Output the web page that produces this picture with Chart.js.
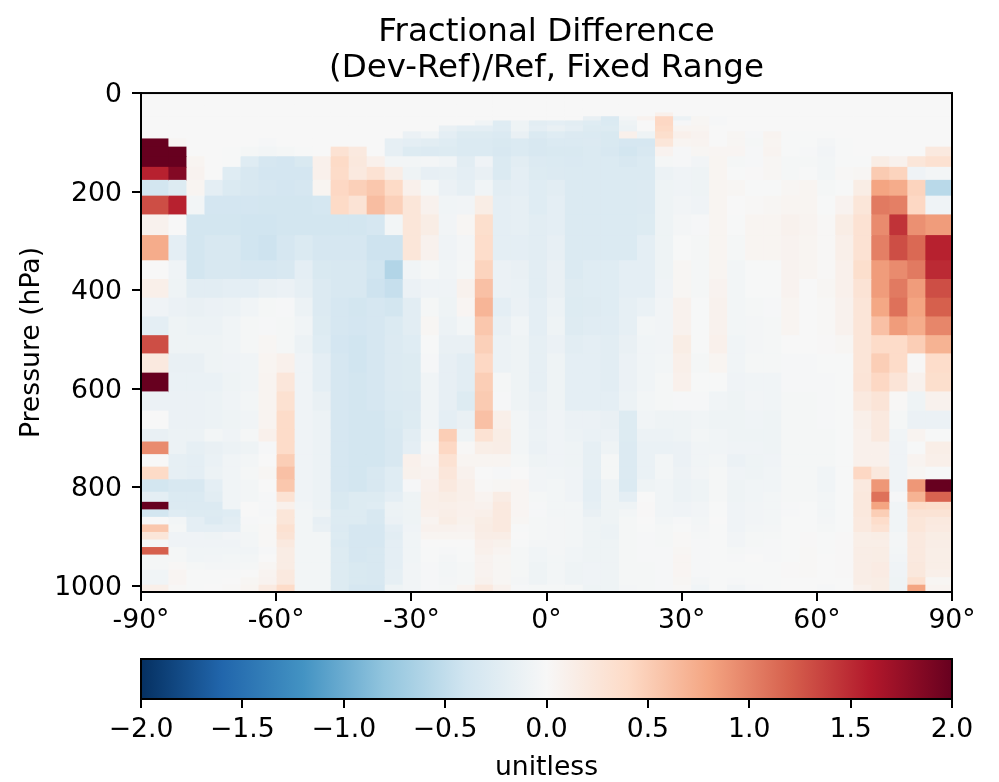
<!DOCTYPE html>
<html>
<head>
<meta charset="utf-8">
<title>Fractional Difference</title>
<script src="https://cdn.jsdelivr.net/npm/chart.js@4"></script>
<style>
  html, body { margin: 0; padding: 0; background: #fff; }
  canvas { display: block; }
</style>
</head>
<body>
<canvas id="heatChart" width="999" height="640"></canvas>
<canvas id="barChart" width="999" height="142"></canvas>
<script>
// latitude cell edges (degrees) - polar cells are wider
const latEdges = [-90,-84,-80,-76,-72,-68,-64,-60,-56,-52,-48,-44,-40,-36,-32,-28,-24,-20,-16,-12,-8,-4,0,4,8,12,16,20,24,28,32,36,40,44,48,52,56,60,64,68,72,76,80,84,90];
// pressure cell edges (hPa), top of the plot first
const pressureEdges = [0,14.2,23.9,32.6,40.2,47.8,56.4,66.6,78.5,92.9,109.5,129,150.5,176.9,208.9,247,288.9,340,377.9,415.9,453.9,491.9,528.9,567.9,606,644.9,682.1,707.6,733.2,758.6,784.2,809.5,829.9,845.2,860.5,875.8,891,906.3,921.6,936.9,952.2,967.5,982.8,998,1012];
const latTicks = [-90,-60,-30,0,30,60,90];
const pressureTicks = [0,200,400,600,800,1000];
const cbarTicks = [-2,-1.5,-1,-0.5,0,0.5,1,1.5,2];
// RdBu_r colormap
const cmapColors = ['#053061','#2166ac','#4393c3','#92c5de','#d1e5f0','#f7f7f7','#fddbc7','#f4a582','#d6604d','#b2182b','#67001f'];

// one row per pressure level, one value per latitude cell
const fracDiff = [
  [0,0,0,0,0,0,0,0,0,0,0,0,0,0,0, 0,0,0,0,0,0,0,0,0,0,0,0,0,0, 0,0,0,0,0,0,0,0,0,0,0,0,0,0,0],
  [0,0,0,0,0,0,0,0,0,0,0,0,0,0,0, 0,0,0,0,0,0,0,0,0,0,0,0,0,0, 0,0,0,0,0,0,0,0,0,0,0,0,0,0,0],
  [0,0,0,0,0,0,0,0,0,0,0,0,0,0,0, 0,0,0,0,0,0,0,0,0,0,0,0,0,0, 0,0,0,0,0,0,0,0,0,0,0,0,0,0,0],
  [0,0,0,0,0,0,0,0,0,0,0,0,0,0,0, 0,0,0,0,0,0,0,0,0,0,0,0,0,0, 0,0,0,0,0,0,0,0,0,0,0,0,0,0,0],
  [0,0,0,0,0,0,0,0,0,0,0,0,0,0,0, 0,0,0,0,0,0,0,0,0,0,0,0,0,.1, 0,0,0,0,0,0,0,0,0,0,0,0,0,0,0],
  [0,0,0,0,0,0,0,0,0,0,0,0,0,0,0, 0,0,0,0,0,0,0,0,0,-.15,-.3,-.05,.07,.42, -.12,.03,-.02,0,0,0,0,0,0,0,0,0,0,0,0],
  [0,0,0,0,0,0,0,0,0,0,0,0,0,0,0, 0,0,0,-.07,-.25,-.1,-.22,-.2,-.22,-.25,-.3,-.1,0,.42, -.02,.03,-.02,0,0,0,0,0,0,0,0,0,0,0,0],
  [0,0,0,0,0,0,0,0,0,0,0,0,0,0,0, 0,-.15,-.2,-.2,-.25,-.1,-.2,-.15,-.2,-.27,-.27,-.12,0,.4, .05,.05,0,0,0,0,0,0,0,0,0,0,0,0,0],
  [0,0,0,0,0,0,0,0,0,0,0,0,0,0,-.13, -.07,-.2,-.27,-.27,-.3,-.15,-.3,-.25,-.28,-.3,-.32,.1,-.1,.35, .1,.07,0,.03,-.02,.06,-.01,-.01,-.01,0,0,0,0,0,0],
  [2,.03,0,0,0,0,-.02,0,0,0,0,0,0,-.18,-.2, -.22,-.25,-.3,-.3,-.32,-.3,-.33,-.3,-.3,-.28,-.32,-.35,-.35,.25, .05,.06,0,.03,-.03,.05,-.01,-.01,-.04,-.01,0,0,0,0,0],
  [2,2,0,0,-.01,-.03,-.05,-.03,-.01,0,.3,.2,0,-.18,-.27, -.28,-.27,-.3,-.3,-.33,-.3,-.33,-.32,-.32,-.3,-.33,-.38,-.33,.07, -.02,.03,.04,.04,-.02,.06,-.01,-.02,-.06,-.01,0,0,0,0,.2],
  [2,2,.05,0,-.01,-.25,-.35,-.37,-.32,.1,.4,.22,.1,-.05,-.05, -.04,-.07,-.22,-.08,-.3,-.22,-.28,-.3,-.31,-.29,-.3,-.33,-.3,-.03, -.02,-.06,.05,-.03,-.02,.03,-.03,-.03,-.05,-.01,-.01,.15,.08,.25,.32],
  [1.55,1.85,.07,0,-.25,-.33,-.37,-.37,-.37,.1,.38,.2,.3,.14,-.1, -.17,-.16,-.2,-.15,-.3,-.2,-.27,-.28,-.3,-.29,-.29,-.3,-.29,-.12, -.08,-.1,.05,-.01,.01,.03,-.03,-.01,-.05,.02,.03,.52,.45,-.08,-.04],
  [-.38,-.27,.05,-.2,-.3,-.33,-.35,-.37,-.35,.05,.42,.48,.55,.4,.1, -.03,-.13,-.18,-.07,-.22,-.2,-.25,-.22,-.29,-.29,-.29,-.29,-.28,-.1, -.08,-.1,.05,.03,-.01,-.01,.03,.05,-.03,-.01,.15,.8,.75,.45,-.55],
  [1.3,1.55,-.05,-.37,-.37,-.37,-.38,-.38,-.38,-.36,.4,.28,.62,.48,.25, .08,-.07,-.06,.15,-.2,-.18,-.25,-.2,-.29,-.29,-.29,-.29,-.28,-.1, -.06,-.08,.05,0,.02,.03,.05,.05,-.01,.07,.25,1.05,1.02,.42,-.08],
  [.08,0,-.38,-.38,-.38,-.4,-.4,-.38,-.38,-.38,-.38,-.38,-.35,-.05,.25, .15,-.06,.03,.35,-.2,-.18,-.22,-.2,-.29,-.29,-.29,-.29,-.27,-.1, -.04,-.02,.05,-.01,.05,.05,.08,.06,.02,.15,.3,.95,1.45,.92,.85],
  [.75,-.2,-.38,-.33,-.33,-.4,-.42,-.35,-.3,-.35,-.35,-.35,-.42,-.42,.25, .08,-.08,-.04,.37,-.2,-.2,-.22,-.17,-.29,-.29,-.29,-.29,-.2,-.1, -.01,-.03,.05,-.03,.05,.05,.07,.05,.02,.12,.3,1.02,1.3,1.15,1.55],
  [0,-.08,-.38,-.33,-.33,-.35,-.35,-.33,-.2,-.32,-.33,-.33,-.4,-.6,-.07, -.03,-.07,-.03,.45,-.13,-.15,-.22,-.15,-.29,-.25,-.25,-.2,-.2,-.1, .03,-.03,.05,-.05,-.01,-.01,.07,.05,.02,.1,.35,.85,.95,1.05,1.5],
  [.12,-.1,-.22,-.22,-.2,-.2,-.15,-.13,-.18,-.28,-.33,-.33,-.42,-.47,-.13, -.08,-.08,.08,.6,-.13,-.14,-.22,-.15,-.26,-.25,-.25,-.2,-.2,-.08, .03,-.03,.07,-.05,-.01,-.01,.07,0,.03,.1,.28,.85,1.05,.85,1.3],
  [-.08,-.13,-.15,-.13,-.12,-.07,-.03,-.02,-.12,-.28,-.35,-.38,-.35,-.38,-.22, -.03,-.1,.04,.68,-.2,-.13,-.2,-.12,-.27,-.26,-.25,-.18,-.14,-.06, .08,-.01,.08,-.05,-.03,-.02,.05,0,.02,.08,.26,.78,1.1,.8,1.2],
  [-.2,-.1,-.12,-.12,-.07,-.03,-.02,-.03,-.07,-.27,-.35,-.37,-.35,-.3,-.22, .03,-.12,-.05,.55,-.15,-.07,-.2,-.1,-.26,-.24,-.24,-.18,-.05,-.06, .08,-.01,.08,-.05,-.04,-.03,.05,0,.02,.08,.26,.6,.85,.75,.98],
  [1.3,-.1,-.1,-.1,-.07,-.03,.03,-.03,-.12,-.25,-.37,-.4,-.35,-.28,-.25, -.01,-.15,-.15,.48,-.12,-.1,-.18,-.13,-.22,-.2,-.22,-.15,-.07,-.06, .15,-.01,.1,-.07,-.04,-.03,0,0,.01,.03,.26,.38,.38,.5,.7],
  [.2,-.15,-.15,-.1,-.08,-.07,.05,.1,-.08,-.2,-.35,-.4,-.35,-.28,-.27, -.02,-.17,-.22,.42,-.12,-.1,-.18,-.1,-.2,-.2,-.22,-.13,-.07,-.05, .12,-.03,.05,-.07,-.03,-.03,-.02,-.02,-.01,-.01,.26,.5,.38,.02,.37],
  [2,-.14,-.14,-.14,-.1,-.07,.06,.24,-.08,-.2,-.35,-.38,-.35,-.28,-.27, -.07,-.17,-.22,.5,-.03,-.1,-.18,-.1,-.2,-.2,-.22,-.13,-.07,-.03, .1,-.01,-.01,-.08,-.07,-.07,-.02,-.02,-.02,-.01,.27,.42,.27,.08,.35],
  [-.13,-.13,-.13,-.12,-.08,-.05,.06,.32,-.08,-.15,-.35,-.38,-.35,-.3,-.28, -.07,-.17,-.27,.52,-.02,-.1,-.15,-.1,-.2,-.2,-.2,-.12,-.05,-.03, -.02,-.02,-.07,-.1,-.06,-.07,-.03,-.03,-.02,-.01,.2,.27,.02,-.1,.08],
  [0,-.13,-.13,-.12,-.1,-.07,.06,.38,-.08,-.12,-.35,-.38,-.38,-.32,-.27, -.07,-.2,-.15,.6,.12,-.05,-.13,-.08,-.13,-.13,-.15,-.27,-.07,-.1, -.1,-.07,-.1,-.1,-.08,-.1,-.03,-.03,-.02,-.01,.12,.2,-.03,-.13,-.13],
  [-.15,-.12,-.12,-.05,-.08,-.03,.1,.38,-.08,-.12,-.35,-.38,-.38,-.33,-.22, -.04,.5,-.1,.3,.15,-.05,-.12,-.08,-.12,-.14,-.13,-.27,-.12,-.12, -.1,-.05,-.07,-.1,-.1,-.1,-.03,-.03,-.03,-.01,.1,.2,-.07,.06,-.01],
  [.95,-.12,-.18,-.15,-.12,-.1,-.02,.38,-.08,-.12,-.35,-.38,-.38,-.33,-.2, .02,.42,.02,.13,.14,-.05,-.13,-.08,-.1,-.18,-.1,-.28,-.14,-.14, -.13,-.07,-.07,-.08,-.08,-.1,-.03,-.03,-.03,-.01,.1,.1,-.08,-.01,.13],
  [0,-.18,-.2,-.14,-.07,-.05,0,.5,-.08,-.12,-.35,-.38,-.38,-.33,.1, .04,.3,.05,.05,.05,-.03,-.1,-.08,-.1,-.18,-.03,-.28,-.14,-.05, -.13,-.07,-.05,-.13,-.09,-.08,-.03,-.03,-.03,-.01,.1,.1,-.08,.06,.12],
  [.4,-.18,-.2,-.12,-.07,-.03,.03,.6,-.08,-.12,-.35,-.38,-.33,-.25,.09, .07,.24,.08,0,-.02,0,-.06,-.07,-.08,-.18,-.03,-.28,-.14,-.05, -.11,-.06,-.03,-.08,-.1,-.07,-.03,-.03,-.07,-.01,.42,.22,-.08,.03,-.01],
  [-.38,-.33,-.33,-.2,-.07,-.05,0,.55,-.08,-.12,-.35,-.38,-.33,-.25,-.02, .1,.2,.12,.02,.03,.04,-.06,-.05,-.08,-.2,-.1,-.29,-.1,-.07, -.12,-.09,-.03,-.09,-.07,-.07,-.03,-.03,-.07,-.01,.2,.88,-.08,.88,2],
  [-.2,-.3,-.3,-.22,-.07,-.05,-.02,.3,-.08,-.12,-.32,-.27,-.27,-.2,-.1, .12,.15,.12,.06,.16,.04,-.03,-.05,-.08,-.2,-.1,-.2,0,-.07, -.12,-.09,-.03,-.09,-.07,-.05,-.03,-.03,-.05,-.01,.22,1.1,-.02,.7,1.18],
  [2,-.28,-.28,-.28,-.07,0,-.02,.1,-.06,-.12,-.32,-.27,-.25,-.12,-.1, .12,.12,.1,.08,.2,.04,-.02,-.05,-.05,-.18,-.1,-.1,.01,-.07, -.08,-.06,-.01,-.08,-.06,-.05,-.02,-.01,-.05,-.01,.22,.8,-.07,.38,.36],
  [-.38,-.25,-.27,-.27,-.25,0,-.02,.25,-.05,-.1,-.27,-.27,-.33,-.12,-.09, .1,.13,.1,.12,.2,.04,-.02,-.05,-.05,-.15,-.1,-.05,.01,-.07, -.08,-.06,-.01,-.08,-.06,-.05,-.02,-.01,-.05,-.01,.22,.5,-.07,.28,.28],
  [0,-.05,-.2,-.28,-.22,-.02,-.01,.25,-.05,-.17,-.27,-.27,-.33,-.13,-.09, .06,.15,.09,.15,.2,.03,-.03,-.04,-.05,-.1,-.1,-.03,0,-.05, -.02,-.05,0,-.08,-.06,-.05,-.01,-.01,-.04,-.01,.2,.37,-.07,.25,.2],
  [.55,-.03,-.2,-.2,-.2,-.03,.02,.32,-.05,-.15,-.28,-.35,-.35,-.2,-.08, .08,.08,.07,.16,.2,-.01,-.03,-.04,-.05,-.1,-.12,-.03,-.01,-.03, -.01,-.04,-.01,-.08,-.05,-.04,-.01,-.01,-.03,-.01,.2,.3,-.07,.25,.18],
  [.25,-.08,-.08,-.1,-.06,-.05,.02,.28,-.05,-.05,-.27,-.35,-.35,-.22,-.07, .05,.05,.05,.14,.14,0,-.03,-.04,-.05,-.1,-.12,-.03,-.02,-.03, .02,-.03,-.01,-.06,-.03,-.03,-.01,.01,-.01,.01,.13,.15,-.04,.2,.15],
  [-.03,-.08,-.08,-.08,-.08,-.05,.02,.2,-.05,-.05,-.3,-.35,-.35,-.2,-.07, 0,0,0,.11,.09,-.01,-.04,-.04,-.05,-.1,-.1,-.03,-.02,-.03, .02,-.02,-.01,-.06,-.03,-.02,-.01,.01,-.01,.01,.13,.13,-.04,.2,.14],
  [1.2,-.03,-.07,-.07,-.07,-.07,-.02,.16,-.05,-.05,-.27,-.35,-.33,-.2,-.07, -.01,-.02,-.01,.1,.06,-.03,-.07,-.04,-.07,-.1,-.1,-.03,-.02,-.02, .03,-.02,-.01,-.03,-.02,-.02,-.01,.02,-.01,.01,.14,.15,-.05,.2,.13],
  [-.03,-.03,-.07,-.06,-.05,-.05,0,.16,-.05,-.05,-.27,-.35,-.33,-.2,-.07, -.01,-.04,-.01,.07,.03,-.03,-.07,-.05,-.07,-.1,-.1,-.03,-.02,-.02, .04,-.02,-.01,-.02,0,-.02,-.01,.02,0,.01,.14,.15,-.06,.2,.13],
  [-.03,.02,-.03,-.04,-.04,-.03,.03,.16,-.05,-.05,-.27,-.32,-.33,-.2,-.06, -.02,-.05,-.03,.07,.03,-.03,-.09,-.05,-.09,-.08,-.09,-.03,-.03,-.02, .04,-.02,-.01,-.01,-.01,-.01,.01,.02,0,.01,.14,.17,-.08,.22,.13],
  [-.07,.04,-.01,-.01,-.01,0,.06,.2,-.05,-.05,-.27,-.32,-.33,-.18,-.06, -.02,-.05,-.03,.07,.03,-.03,-.1,-.05,-.1,-.08,-.09,-.03,-.03,-.02, .04,-.02,-.01,-.01,-.01,-.01,.01,.02,0,.01,.14,.17,-.08,.22,.12],
  [-.07,.04,-.01,-.01,0,.03,.07,.2,-.05,-.05,-.27,-.32,-.33,-.18,-.06, -.02,-.04,-.03,.08,.03,-.04,-.1,-.05,-.1,-.08,-.09,-.03,-.03,-.02, .03,-.04,-.01,-.02,-.01,-.01,0,0,0,0,.14,.15,-.09,.32,.03],
  [.12,.02,-.01,0,.02,.05,.18,.38,-.05,-.05,-.27,-.35,-.35,-.1,-.06, -.02,-.03,.06,.2,.08,-.02,-.03,-.03,-.03,-.1,-.09,-.04,-.03,-.02, .02,-.07,-.01,-.06,-.02,-.01,0,0,-.02,0,.1,.15,-.09,.8,.06]
];

Chart.defaults.font.family = '"DejaVu Sans"';
Chart.defaults.font.size = 26.67;
Chart.defaults.color = '#000';
Chart.defaults.animation = false;

function hexToRgb(hex) {
  return [1, 3, 5].map(i => parseInt(hex.substr(i, 2), 16));
}

// value -> colour, range is fixed at -2..2
function valueColor(v) {
  const t = (Math.max(-2, Math.min(2, v)) + 2) / 4 * (cmapColors.length - 1);
  const i = Math.min(Math.floor(t), cmapColors.length - 2);
  const a = hexToRgb(cmapColors[i]);
  const b = hexToRgb(cmapColors[i + 1]);
  const rgb = a.map((c, k) => Math.round(c + (b[k] - c) * (t - i)));
  return `rgb(${rgb[0]}, ${rgb[1]}, ${rgb[2]})`;
}

// black box around the plot area
const frame = {
  id: 'frame',
  afterDraw(chart) {
    const { ctx, chartArea: a } = chart;
    ctx.save();
    ctx.strokeStyle = '#000';
    ctx.lineWidth = 2;
    ctx.strokeRect(a.left, a.top, a.right - a.left, a.bottom - a.top);
    ctx.restore();
  }
};

const plotWidth = 811;
// one bar dataset per latitude cell, every pressure level is a floating bar
const columnDatasets = latEdges.slice(0, -1).map((west, c) => {
  const east = latEdges[c + 1];
  return {
    data: fracDiff.map((row, r) => ({ x: (west + east) / 2, y: [pressureEdges[r], pressureEdges[r + 1]] })),
    backgroundColor: fracDiff.map(row => valueColor(row[c])),
    grouped: false,
    barThickness: (east - west) * plotWidth / 180,
    borderWidth: 0,
    inflateAmount: 0.4
  };
});

new Chart(document.getElementById('heatChart'), {
  type: 'bar',
  data: { datasets: columnDatasets },
  plugins: [frame],
  options: {
    responsive: false,
    devicePixelRatio: 1,
    layout: { padding: { left: 0, right: 47, top: 0, bottom: 0 } },
    plugins: {
      legend: { display: false },
      tooltip: { enabled: false },
      title: {
        display: true,
        fullSize: false,
        text: ['Fractional Difference', '(Dev-Ref)/Ref, Fixed Range'],
        font: { size: 32.5, weight: 'normal', lineHeight: 1.09 },
        color: '#000',
        padding: { top: 15.3, bottom: 6.9 }
      }
    },
    scales: {
      x: {
        type: 'linear',
        offset: false,
        min: -90,
        max: 90,
        afterFit: s => { s.height = 48; },
        afterBuildTicks: s => { s.ticks = latTicks.map(v => ({ value: v })); },
        border: { color: '#000', width: 2 },
        grid: { offset: false, drawOnChartArea: false, color: '#000', lineWidth: 2, tickLength: 9 },
        ticks: { padding: 4, maxRotation: 0, autoSkip: false, callback: v => `${v}°` }
      },
      y: {
        type: 'linear',
        reverse: true,
        min: 0,
        max: 1012,
        afterFit: s => { s.width = 141; },
        afterBuildTicks: s => { s.ticks = pressureTicks.map(v => ({ value: v })); },
        border: { color: '#000', width: 2 },
        grid: { drawOnChartArea: false, color: '#000', lineWidth: 2, tickLength: 9 },
        ticks: { padding: 10, labelOffset: 2, autoSkip: false, callback: v => String(v) },
        title: { display: true, text: 'Pressure (hPa)', padding: { top: 16, bottom: 0 } }
      }
    }
  }
});

// colour bar below the plot
new Chart(document.getElementById('barChart'), {
  type: 'bar',
  data: {
    labels: ['unitless'],
    datasets: [{
      data: [[cbarTicks[0], cbarTicks[cbarTicks.length - 1]]],
      barPercentage: 1,
      categoryPercentage: 1,
      backgroundColor(context) {
        const { chart } = context;
        if (!chart.chartArea) return '#fff';
        const { left, right } = chart.chartArea;
        const grad = chart.ctx.createLinearGradient(left, 0, right, 0);
        cmapColors.forEach((c, i) => grad.addColorStop(i / (cmapColors.length - 1), c));
        return grad;
      }
    }]
  },
  plugins: [frame],
  options: {
    indexAxis: 'y',
    responsive: false,
    devicePixelRatio: 1,
    layout: { padding: { left: 141, right: 47, top: 19, bottom: 0 } },
    plugins: { legend: { display: false }, tooltip: { enabled: false } },
    scales: {
      y: { display: false },
      x: {
        type: 'linear',
        min: -2,
        max: 2,
        afterFit: s => { s.height = 83; },
        afterBuildTicks: s => { s.ticks = cbarTicks.map(v => ({ value: v })); },
        border: { color: '#000', width: 2 },
        grid: { drawOnChartArea: false, color: '#000', lineWidth: 2, tickLength: 9 },
        ticks: {
          padding: 6,
          maxRotation: 0,
          autoSkip: false,
          callback: v => (v < 0 ? '\u2212' : '') + Math.abs(v).toFixed(1)
        },
        title: { display: true, text: 'unitless', padding: { top: 0, bottom: -2 } }
      }
    }
  }
});
</script>
</body>
</html>
